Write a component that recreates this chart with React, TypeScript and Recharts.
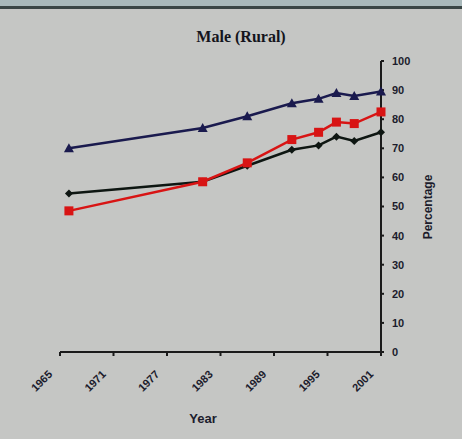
import { LineChart, Line, XAxis, YAxis } from 'recharts';

// years of the survey rounds
const years = [1966, 1981, 1986, 1991, 1994, 1996, 1998, 2001];
// series values (percentage)
const navySeries = [70, 77, 81, 85.5, 87, 89, 88, 89.5];
const blackSeries = [54.5, 58.5, 64, 69.5, 71, 74, 72.5, 75.5];
const redSeries = [48.5, 58.5, 65, 73, 75.5, 79, 78.5, 82.5];
// axis ticks
const yearTicks = [1965, 1971, 1977, 1983, 1989, 1995, 2001];
const pctTicks = [0, 10, 20, 30, 40, 50, 60, 70, 80, 90, 100];

const data = years.map((y, i) => ({
  year: y,
  navy: navySeries[i],
  black: blackSeries[i],
  red: redSeries[i],
}));

const INK = '#1c1c2c';
const BG = '#c5c6c4';

const Triangle = (props: any) => {
  const { cx, cy, key } = props;
  return (
    <path
      key={key}
      d={`M${cx},${cy - 5} L${cx + 5},${cy + 4} L${cx - 5},${cy + 4} Z`}
      fill="#1a1a4e"
    />
  );
};

const Diamond = (props: any) => {
  const { cx, cy, key } = props;
  return (
    <path
      key={key}
      d={`M${cx},${cy - 4} L${cx + 4},${cy} L${cx},${cy + 4} L${cx - 4},${cy} Z`}
      fill="#0e1612"
    />
  );
};

const Square = (props: any) => {
  const { cx, cy, key } = props;
  return <rect key={key} x={cx - 4.5} y={cy - 4.5} width={9} height={9} fill="#d81414" />;
};

const YearTick = (props: any) => {
  const { x, y, payload } = props;
  return (
    <text
      x={x - 7}
      y={y + 17}
      transform={`rotate(-45 ${x - 7} ${y + 17})`}
      textAnchor="end"
      fontFamily="Liberation Sans, Arial, sans-serif"
      fontWeight="bold"
      fontSize={11}
      fill={INK}
    >
      {payload.value}
    </text>
  );
};

export default function App() {
  return (
    <div
      style={{
        position: 'absolute',
        left: 0,
        top: 0,
        width: 462,
        height: 439,
        background: BG,
      }}
    >
      <div style={{ position: 'absolute', left: 0, top: 0, width: 462, height: 6, background: '#a9b9bb' }} />
      <div style={{ position: 'absolute', left: 0, top: 6, width: 462, height: 3, background: '#3a4646' }} />
      <div
        style={{
          position: 'absolute',
          left: 0,
          top: 28,
          width: 482,
          textAlign: 'center',
          fontFamily: 'Liberation Serif, Times New Roman, serif',
          fontWeight: 'bold',
          fontSize: 16,
          color: '#14141c',
        }}
      >
        Male (Rural)
      </div>
      <LineChart
        width={462}
        height={439}
        data={data}
        margin={{ top: 61, right: 21, bottom: 37, left: 60 }}
      >
        <XAxis
          dataKey="year"
          type="number"
          domain={[1965, 2001]}
          ticks={yearTicks}
          interval={0}
          tick={<YearTick />}
          tickSize={4}
          height={50}
          axisLine={{ stroke: '#1a1a1a', strokeWidth: 2 }}
          tickLine={{ stroke: '#1a1a1a', strokeWidth: 2 }}
          label={{
            content: () => (
              <text
                x={203}
                y={423}
                textAnchor="middle"
                fontFamily="Liberation Sans, Arial, sans-serif"
                fontWeight="bold"
                fontSize={13}
                fill={INK}
              >
                Year
              </text>
            ),
          }}
        />
        <YAxis
          orientation="right"
          type="number"
          domain={[0, 100]}
          ticks={pctTicks}
          interval={0}
          width={60}
          tickSize={3}
          tickMargin={8}
          axisLine={{ stroke: '#1a1a1a', strokeWidth: 2 }}
          tickLine={{ stroke: '#1a1a1a', strokeWidth: 2 }}
          tick={{
            fill: INK,
            fontSize: 11,
            fontWeight: 'bold',
            fontFamily: 'Liberation Sans, Arial, sans-serif',
          }}
          label={{
            content: () => (
              <text
                x={432}
                y={207}
                transform="rotate(-90 432 207)"
                textAnchor="middle"
                fontFamily="Liberation Sans, Arial, sans-serif"
                fontWeight="bold"
                fontSize={12}
                fill={INK}
              >
                Percentage
              </text>
            ),
          }}
        />
        <Line
          dataKey="navy"
          name="Series 1"
          stroke="#1a1a4e"
          strokeWidth={2.5}
          dot={Triangle}
          activeDot={false}
          isAnimationActive={false}
        />
        <Line
          dataKey="black"
          name="Series 2"
          stroke="#0e1612"
          strokeWidth={2.5}
          dot={Diamond}
          activeDot={false}
          isAnimationActive={false}
        />
        <Line
          dataKey="red"
          name="Series 3"
          stroke="#d81414"
          strokeWidth={2.5}
          dot={Square}
          activeDot={false}
          isAnimationActive={false}
        />
      </LineChart>
    </div>
  );
}
